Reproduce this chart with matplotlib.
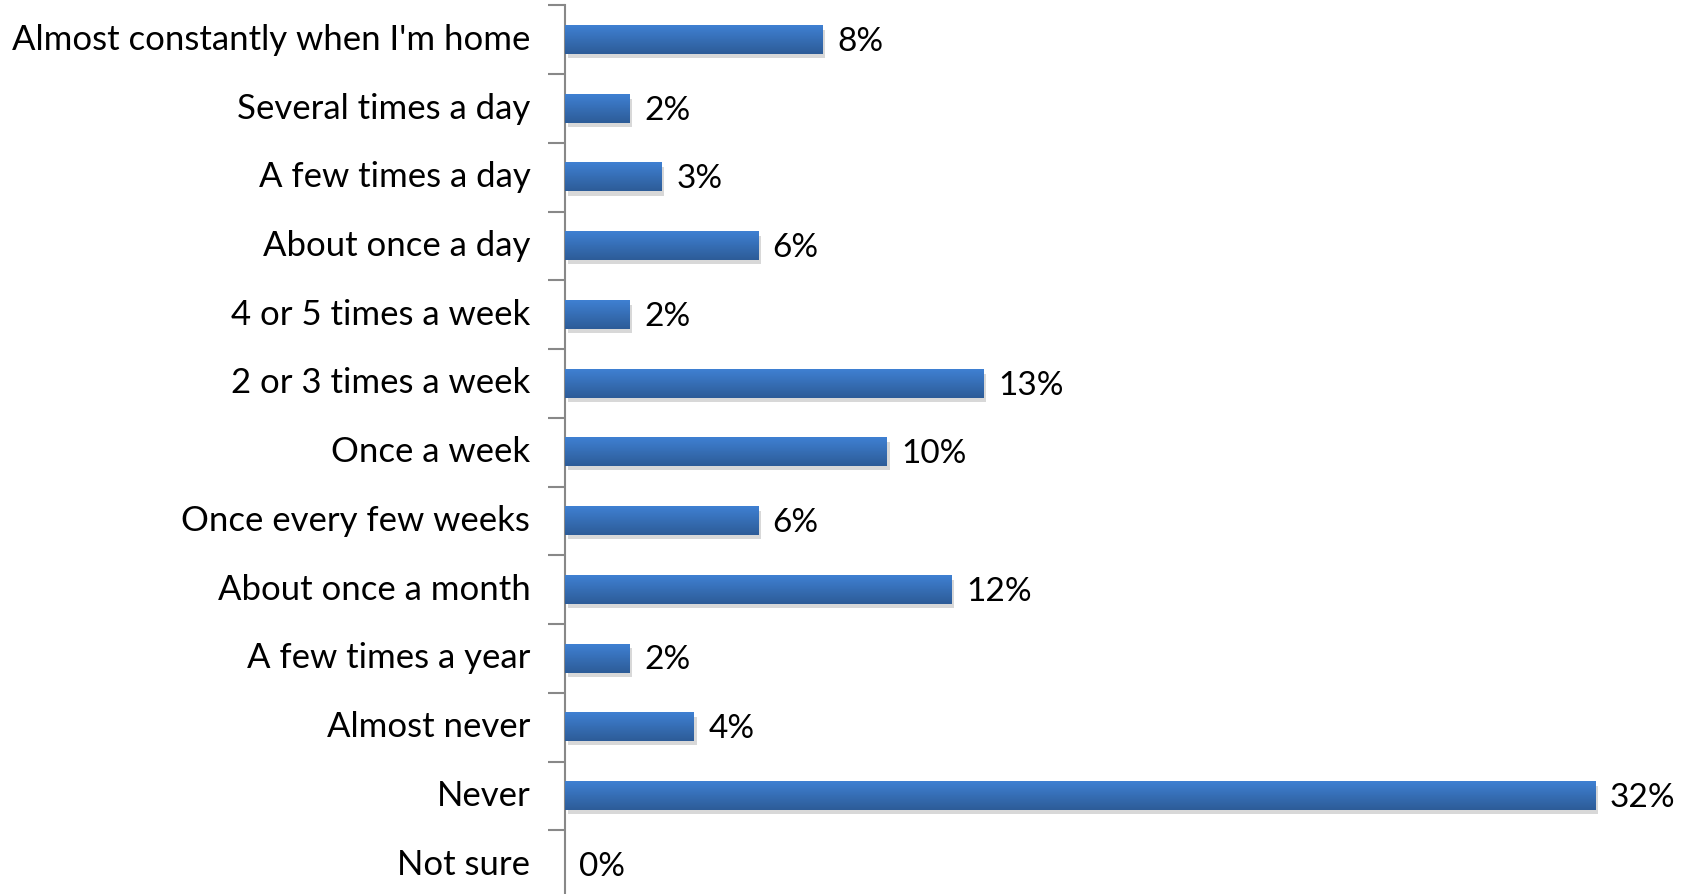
import numpy as np
import matplotlib
matplotlib.use("Agg")
import matplotlib.pyplot as plt
import matplotlib.patheffects as pe
from matplotlib.colors import LinearSegmentedColormap

categories = ["Almost constantly when I'm home", "Several times a day", "A few times a day",
              "About once a day", "4 or 5 times a week", "2 or 3 times a week", "Once a week",
              "Once every few weeks", "About once a month", "A few times a year",
              "Almost never", "Never", "Not sure"]
values = [8, 2, 3, 6, 2, 13, 10, 6, 12, 2, 4, 32, 0]
value_labels = ["8%", "2%", "3%", "6%", "2%", "13%", "10%", "6%", "12%", "2%", "4%", "32%", "0%"]

plt.rcParams['font.family'] = ['Lato', 'DejaVu Sans']

W, H = 1692, 894
fig = plt.figure(figsize=(W / 100, H / 100), dpi=100)
ax = fig.add_axes([565 / W, -5 / H, 1127 / W, (894 - 0.4) / H])

n = len(categories)
ypos = np.arange(n)
bar_h = 0.41
grad = LinearSegmentedColormap.from_list("bar", ["#3f80d2", "#2d5c98"])
g = np.linspace(0, 1, 64).reshape(-1, 1)

for y, v, lab in zip(ypos, values, value_labels):
    if v > 0:
        # soft drop shadow under the bar
        ax.barh(y, v, height=bar_h, left=0, color="none", edgecolor="none",
                path_effects=[pe.SimplePatchShadow(offset=(2, -3), shadow_rgbFace="#666666", alpha=0.25)])
        ax.imshow(g, cmap=grad, aspect="auto", interpolation="bilinear",
                  extent=(0, v, y + bar_h / 2, y - bar_h / 2), zorder=3)
    ax.text(v + 0.45, y + 0.03, lab, va="center", ha="left", fontsize=24, color="black")

ax.set_xlim(0, 35)
ax.set_ylim(n - 0.5, -0.5)
ax.set_yticks(ypos)
ax.set_yticklabels(categories, fontsize=25, va="center")
ax.set_yticks(np.arange(n + 1) - 0.5, minor=True)
ax.tick_params(axis="y", which="major", length=0, pad=25)
ax.tick_params(axis="y", which="minor", length=12, width=1.5, color="#888888", direction="out")
ax.set_xticks([])
for s in ["top", "right", "bottom"]:
    ax.spines[s].set_visible(False)
ax.spines["left"].set_color("#888888")
ax.spines["left"].set_linewidth(1.5)

fig.savefig("out.png", dpi=100)
